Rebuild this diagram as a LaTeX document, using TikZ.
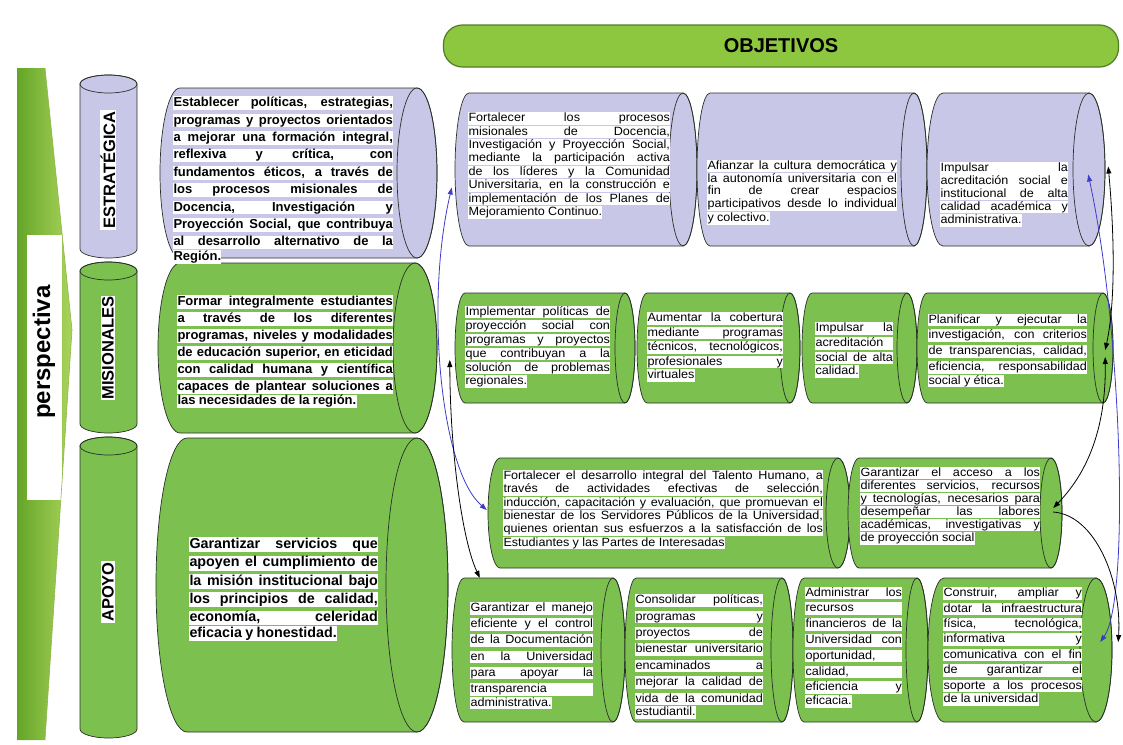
\documentclass[tikz,border=0pt]{standalone}
\usepackage{fontspec}
\setmainfont{Liberation Sans}
\newfontfamily\objfont[FakeStretch=1.05]{Liberation Sans}
\usetikzlibrary{arrows.meta,calc}
\definecolor{purp}{RGB}{201,199,232}
\definecolor{grn}{RGB}{124,192,80}
\definecolor{edge}{RGB}{40,50,40}
\definecolor{hdr}{RGB}{141,198,63}
\definecolor{hdredge}{RGB}{80,125,35}
\definecolor{lnblue}{RGB}{60,60,200}
\definecolor{pdark}{RGB}{100,165,40}
\definecolor{plight}{RGB}{170,212,90}
\setlength{\fboxsep}{0.3pt}
\newcommand\hls{\rule[-0.24em]{0pt}{1em}}
\newcommand\JL[1]{\par\noindent\colorbox{white}{\hls\hbox to \dimexpr\hsize-2\fboxsep\relax{\spaceskip=\fontdimen2\font plus 1fil\xspaceskip=\spaceskip\relax #1}}}
\newcommand\JE[1]{\par\noindent\colorbox{white}{\hls#1}}
\newcommand\hcyl[7]{%
 \path[draw=edge, line width=0.7pt, fill=#7] (#2+#6,#3) -- (#4-#6,#3)
   arc[start angle=-90,end angle=90,x radius=#6,y radius={(#5-#3)/2}] -- (#2+#6,#5)
   arc[start angle=90,end angle=270,x radius=#6,y radius={(#5-#3)/2}] -- cycle;
 \draw[edge, line width=0.7pt] (#4-#6,{(#3+#5)/2}) ellipse[x radius=#6,y radius={(#5-#3)/2}];
 \node[inner sep=0,minimum width={#4-#2},minimum height={#5-#3}] (#1) at ({(#2+#4)/2},{(#3+#5)/2}) {};}
\newcommand\vcyl[7]{%
 \path[draw=edge, line width=0.7pt, fill=#7] (#2,#3+#6) -- (#2,#5-#6)
   arc[start angle=180,end angle=0,x radius={(#4-#2)/2},y radius=#6] -- (#4,#3+#6)
   arc[start angle=0,end angle=-180,x radius={(#4-#2)/2},y radius=#6] -- cycle;
 \draw[edge, line width=0.7pt] ({(#2+#4)/2},#3+#6) ellipse[x radius={(#4-#2)/2},y radius=#6];
 \node[inner sep=0,minimum width={#4-#2},minimum height={#5-#3}] (#1) at ({(#2+#4)/2},{(#3+#5)/2}) {};}
\tikzset{
 btx/.style={anchor=north west, inner sep=0, font=\bfseries},
 otx/.style={anchor=north west, inner sep=0, font=\objfont},
 lbl/.style={rotate=90, fill=white, inner sep=1pt, font=\bfseries\fontsize{16.5}{18}\selectfont},
 tip/.tip={Triangle[length=7pt,width=5pt]},
 bconn/.style={draw=lnblue, line width=0.8pt, tip-tip},
 kconn/.style={draw=black, line width=0.8pt, tip-tip},
 kconnone/.style={draw=black, line width=0.8pt, -tip}
}
\begin{document}
\begin{tikzpicture}[x=1pt,y=-1pt]
\useasboundingbox (0,0) rectangle (1123,744);
\fill[white] (0,0) rectangle (1123,744);
% perspectiva banner
\shade[left color=pdark, right color=plight] (17,68) -- (45,68) -- (72,330) -- (45,740) -- (17,740) -- cycle;
\fill[white] (27,235) rectangle (62,500);
\draw[plight!85!black, line width=0.6pt] (45,68) -- (72,330) -- (45,740);
\node[rotate=90, font=\bfseries\fontsize{24}{28}\selectfont] (persp) at (44,352) {perspectiva};
% header
\node[draw=hdredge, line width=1.2pt, fill=hdr, rounded corners=19pt, minimum width=675pt, minimum height=42pt, inner sep=0, font=\bfseries\fontsize{20}{24}\selectfont] (hdr) at (781,46) {OBJETIVOS};
% left column cylinders
\vcyl{cE}{80}{75}{137}{258}{9}{purp}
\vcyl{cM}{80}{262}{137}{433}{9}{grn}
\vcyl{cA}{80}{437}{137}{738}{9}{grn}
\node[lbl] (lE) at (108,170) {ESTRATÉGICA};
\node[lbl] (lM) at (108,348) {MISIONALES};
\node[lbl] (lA) at (108,592) {APOYO};
% description cylinders
\hcyl{dE}{160}{88}{437}{258}{20}{purp}
\hcyl{dM}{158}{263}{437}{433}{22}{grn}
\hcyl{dA}{156}{438}{448}{732}{31}{grn}
% objective cylinders
\hcyl{o11}{455}{93}{697}{246}{14}{purp}
\hcyl{o12}{697}{93}{927}{246}{13}{purp}
\hcyl{o13}{927}{93}{1105}{246}{16}{purp}
\hcyl{o21}{455}{293}{635}{403}{10}{grn}
\hcyl{o22}{637}{293}{800}{403}{10}{grn}
\hcyl{o23}{802}{293}{917}{403}{10}{grn}
\hcyl{o24}{917}{293}{1113}{403}{10}{grn}
\hcyl{o31}{488}{458}{850}{568}{12}{grn}
\hcyl{o32}{848}{458}{1062}{568}{11}{grn}
\hcyl{o41}{452}{578}{625}{722}{12}{grn}
\hcyl{o42}{625}{578}{793}{722}{11}{grn}
\hcyl{o43}{793}{578}{928}{722}{11}{grn}
\hcyl{o44}{928}{578}{1112}{722}{16}{grn}
% description texts
\node[btx, text width=220pt] (tE) at (173,89) {\fontsize{13}{17.4}\selectfont
\JL{Establecer políticas, estrategias,}
\JL{programas y proyectos orientados}
\JL{a mejorar una formación integral,}
\JL{reflexiva y crítica, con}
\JL{fundamentos éticos, a través de}
\JL{los procesos misionales de}
\JL{Docencia, Investigación y}
\JL{Proyección Social, que contribuya}
\JL{al desarrollo alternativo de la}
\JE{Región.}};
\node[btx, text width=216pt] (tM) at (177,288) {\fontsize{13}{17}\selectfont
\JL{Formar integralmente estudiantes}
\JL{a través de los diferentes}
\JL{programas, niveles y modalidades}
\JL{de educación superior, en eticidad}
\JL{con calidad humana y científica}
\JL{capaces de plantear soluciones a}
\JE{las necesidades de la región.}};
\node[btx, text width=189pt] (tA) at (189,530) {\fontsize{14.3}{18.3}\selectfont
\JL{Garantizar servicios que}
\JL{apoyen el cumplimiento de}
\JL{la misión institucional bajo}
\JL{los principios de calidad,}
\JL{economía, celeridad}
\JE{eficacia y honestidad.}};
% objective texts
\node[otx, text width=202pt] (t11) at (468,108) {\fontsize{12}{13.4}\selectfont
\JL{Fortalecer los procesos}
\JL{misionales de Docencia,}
\JL{Investigación y Proyección Social,}
\JL{mediante la participación activa}
\JL{de los líderes y la Comunidad}
\JL{Universitaria, en la construcción e}
\JL{implementación de los Planes de}
\JE{Mejoramiento Continuo.}};
\node[otx, text width=190pt] (t12) at (707,156) {\fontsize{12}{12.9}\selectfont
\JL{Afianzar la cultura democrática y}
\JL{la autonomía universitaria con el}
\JL{fin de crear espacios}
\JL{participativos desde lo individual}
\JE{y colectivo.}};
\node[otx, text width=128pt] (t13) at (940,159) {\fontsize{12}{12.7}\selectfont
\JL{Impulsar la}
\JL{acreditación social e}
\JL{institucional de alta}
\JL{calidad académica y}
\JE{administrativa.}};
\node[otx, text width=145pt] (t21) at (465,301) {\fontsize{12}{14}\selectfont
\JL{Implementar políticas de}
\JL{proyección social con}
\JL{programas y proyectos}
\JL{que contribuyan a la}
\JL{solución de problemas}
\JE{regionales.}};
\node[otx, text width=136pt] (t22) at (647,307) {\fontsize{12}{14.5}\selectfont
\JL{Aumentar la cobertura}
\JL{mediante programas}
\JL{técnicos, tecnológicos,}
\JL{profesionales y}
\JE{virtuales}};
\node[otx, text width=78pt] (t23) at (815,317) {\fontsize{12}{14.7}\selectfont
\JL{Impulsar la}
\JL{acreditación}
\JL{social de alta}
\JE{calidad.}};
\node[otx, text width=159pt] (t24) at (928,307) {\fontsize{12}{15.8}\selectfont
\JL{Planificar y ejecutar la}
\JL{investigación, con criterios}
\JL{de transparencias, calidad,}
\JL{eficiencia, responsabilidad}
\JE{social y ética.}};
\node[otx, text width=320pt] (t31) at (503,466) {\fontsize{12}{13.3}\selectfont
\JL{Fortalecer el desarrollo integral del Talento Humano, a}
\JL{través de actividades efectivas de selección,}
\JL{inducción, capacitación y evaluación, que promuevan el}
\JL{bienestar de los Servidores Públicos de la Universidad,}
\JL{quienes orientan sus esfuerzos a la satisfacción de los}
\JE{Estudiantes y las Partes de Interesadas}};
\node[otx, text width=180pt] (t32) at (860,463) {\fontsize{12}{13}\selectfont
\JL{Garantizar el acceso a los}
\JL{diferentes servicios, recursos}
\JL{y tecnologías, necesarios para}
\JL{desempeñar las labores}
\JL{académicas, investigativas y}
\JE{de proyección social}};
\node[otx, text width=123pt] (t41) at (470,595) {\fontsize{12}{16.2}\selectfont
\JL{Garantizar el manejo}
\JL{eficiente y el control}
\JL{de la Documentación}
\JL{en la Universidad}
\JL{para apoyar la}
\JL{transparencia}
\JE{administrativa.}};
\node[otx, text width=128pt] (t42) at (635,587) {\fontsize{12}{16.4}\selectfont
\JL{Consolidar políticas,}
\JL{programas y}
\JL{proyectos de}
\JL{bienestar universitario}
\JL{encaminados a}
\JL{mejorar la calidad de}
\JL{vida de la comunidad}
\JE{estudiantil.}};
\node[otx, text width=97pt] (t43) at (805,580) {\fontsize{12}{15.8}\selectfont
\JL{Administrar los}
\JL{recursos}
\JL{financieros de la}
\JL{Universidad con}
\JL{oportunidad,}
\JL{calidad,}
\JL{eficiencia y}
\JE{eficacia.}};
\node[otx, text width=139pt] (t44) at (943,581) {\fontsize{12}{15.4}\selectfont
\JL{Construir, ampliar y}
\JL{dotar la infraestructura}
\JL{física, tecnológica,}
\JL{informativa y}
\JL{comunicativa con el fin}
\JL{de garantizar el}
\JL{soporte a los procesos}
\JE{de la universidad}};
% connectors
\draw[bconn] ($(o11.west)+(-3,18)$) .. controls (425,300) and (440,470) .. ($(o31.west)+(-1,-3)$);
\draw[kconn] ($(o21.west)+(-5,12)$) .. controls (450,450) and (462,540) .. ($(o41.north west)+(28,0)$);
\draw[bconn] ($(o13.east)+(-17,5)$) .. controls (1122,330) and (1130,600) .. ($(o44.east)+(-12,-8)$);
\draw[kconn] ($(o13.east)+(3,-3)$) .. controls (1114,230) and (1116,300) .. ($(o24.east)+(-8,2)$);
\draw[kconn] ($(o24.east)+(-8,9)$) .. controls (1106,420) and (1092,468) .. ($(o32.east)+(-9,-5)$);
\draw[kconnone] ($(o32.east)+(-9,-1)$) .. controls (1095,515) and (1122,580) .. ($(o44.east)+(6,-8)$);
\end{tikzpicture}
\end{document}
